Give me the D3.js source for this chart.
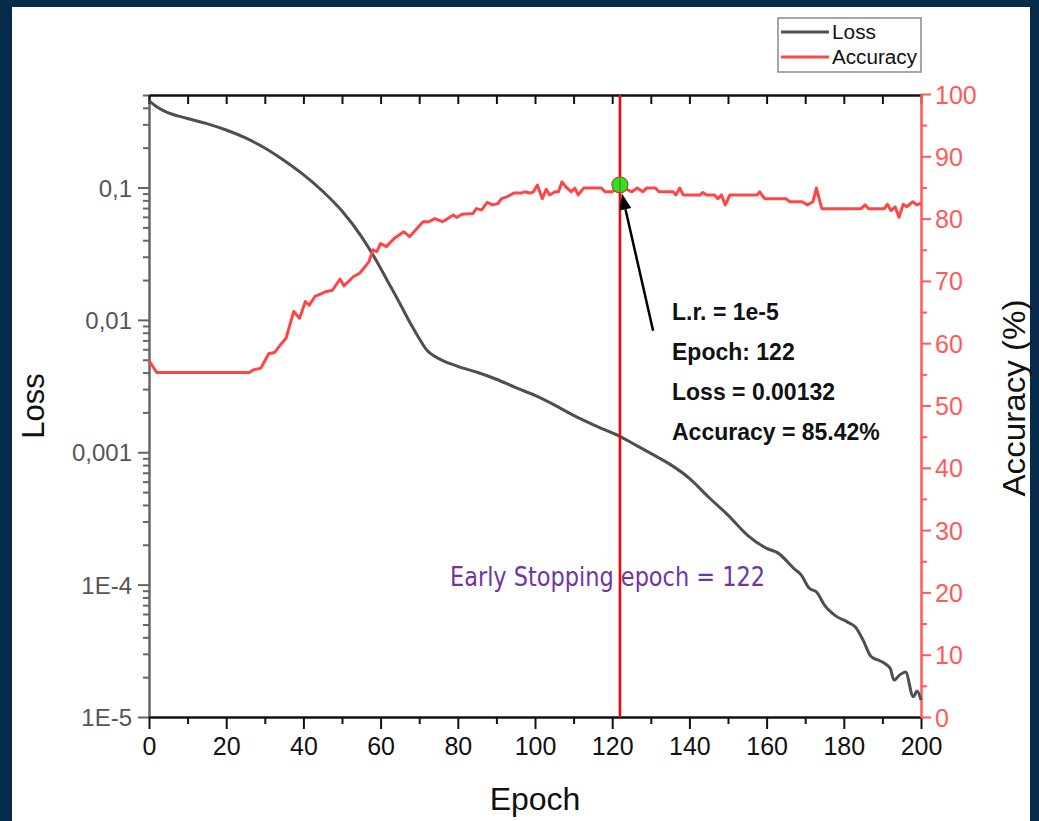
<!DOCTYPE html>
<html>
<head>
<meta charset="utf-8">
<script src="https://cdn.jsdelivr.net/npm/d3@7"></script>
<style>
  html, body { margin: 0; padding: 0; background: #052a4a; }
  svg { display: block; }
  text { font-family: "Liberation Sans", Arial, sans-serif; }
</style>
</head>
<body>
<svg id="chart" width="1039" height="821"></svg>
<script>
// ---------------- DATA ----------------
const lossEpochs = [0, 2, 4, 10, 15, 20, 25, 30, 35, 40, 45, 50, 55, 60, 62, 65, 68, 70, 72, 74, 76, 80, 85, 90, 95, 100,
  105, 110, 115, 120, 122, 125, 130, 135, 140, 145, 150, 155, 160, 163, 167, 169, 171, 173, 175, 178, 181,
  183, 185, 187, 190, 192, 193, 194.5, 196, 198, 199, 200];
const lossValues = [0.454, 0.408, 0.378, 0.332, 0.304, 0.272, 0.237, 0.199, 0.160, 0.125, 0.0937, 0.0664, 0.0428, 0.0246, 0.0192,
  0.0133, 0.0091, 0.00724, 0.00589, 0.00531, 0.00495, 0.00446, 0.00402, 0.00356, 0.00308, 0.00269,
  0.00228, 0.00190, 0.00162, 0.00140, 0.00132, 0.00118, 0.00098, 0.00081, 0.000636, 0.000457, 0.000335,
  0.000237, 0.000188, 0.000173, 0.000133, 0.000118, 0.0000942, 0.0000877, 0.0000700, 0.0000578,
  0.0000521, 0.0000478, 0.0000381, 0.0000288, 0.0000260, 0.0000234, 0.0000190, 0.0000208, 0.0000219,
  0.0000142, 0.0000157, 0.0000134];

const accEpochs = [0, 2, 26, 27, 29, 31, 32.5, 34, 35.5, 37.5, 39, 40.5, 41.5, 43, 46, 47.5, 49.5, 50.5, 53,
  54.5, 56, 57, 58, 59, 60, 61.5, 63.5, 66, 67.5, 71, 72.5, 74, 76, 77.4, 78.8, 79.7, 81.1, 83.9, 84.8,
  86.2, 87.6, 89, 90.4, 91.3, 92.7, 94.5, 96.4, 97.3, 98.7, 99.6, 100.6, 101.9, 102.9, 103.8, 105.2,
  106.1, 107, 108, 109.4, 110.3, 111.2, 112.6, 117.2, 118.2, 120, 122, 124, 125.1, 126.5, 127.9, 128.9,
  131.2, 132.1, 135.8, 136.5, 137.5, 138.4, 142.8, 143.5, 144.4, 146.5, 147.4, 148.3, 149.3, 150.5,
  157.6, 158.2, 159.5, 165, 166, 169.2, 170.6, 172, 172.9, 174.3, 184.5, 185.5, 186.4, 190.5, 191.3,
  192.2, 193.3, 194.3, 195.4, 196.3, 197.9, 198.9, 200];
const accValues = [57.2, 55.3, 55.3, 55.7, 56.0, 58.3, 58.5, 59.7, 60.8, 65.1, 64.0, 66.7, 66.1, 67.5, 68.3,
  68.5, 70.3, 69.2, 70.7, 71.2, 72.3, 73.1, 75.0, 74.7, 76.0, 75.5, 76.8, 77.9, 77.1, 79.5, 79.5, 80.0,
  79.5, 80.0, 80.6, 80.2, 80.7, 80.8, 81.6, 81.4, 82.6, 82.2, 82.4, 83.2, 83.5, 84.1, 84.1, 84.3, 84.1,
  84.3, 85.4, 83.2, 84.7, 83.8, 84.3, 84.3, 85.9, 85.1, 84.3, 84.9, 83.8, 84.9, 84.9, 84.3, 84.3, 85.42,
  84.6, 84.3, 84.9, 84.3, 84.9, 84.9, 84.3, 84.3, 83.8, 84.9, 83.8, 83.8, 84.2, 83.8, 83.8, 83.2, 83.8,
  82.2, 83.8, 83.8, 84.3, 83.2, 83.2, 82.7, 82.7, 82.2, 82.7, 84.9, 81.6, 81.6, 82.2, 81.6, 81.6, 82.3,
  81.3, 81.9, 80.2, 82.3, 81.9, 82.7, 82.2, 82.5];

const xTicks = [0, 20, 40, 60, 80, 100, 120, 140, 160, 180, 200];
const lossTickValues = [1e-5, 1e-4, 1e-3, 1e-2, 1e-1];
const lossTickLabels = ["1E-5", "1E-4", "0,001", "0,01", "0,1"];
const accTicks = [0, 10, 20, 30, 40, 50, 60, 70, 80, 90, 100];

const stopEpoch = 122;
const stopLoss = 0.00132;
const stopAcc = 85.42;
const noteLines = ["L.r. = 1e-5", "Epoch: 122", "Loss = 0.00132", "Accuracy = 85.42%"];
const stopLabel = "Early Stopping epoch = 122";
const legendNames = ["Loss", "Accuracy"];

// ---------------- LAYOUT ----------------
const svg = d3.select("#chart");
const W = 1039, H = 821;
const L = 149, R = 921, T = 95, B = 717;
const lossColor = "#4f4f4f", accColor = "#ff4646", axisRed = "#ff5a5a";

svg.append("rect").attr("width", W).attr("height", H).attr("fill", "#052a4a");
svg.append("rect").attr("x", 12).attr("y", 7).attr("width", 1018).attr("height", H - 7).attr("fill", "#ffffff");

const x = d3.scaleLinear().domain([0, 200]).range([L, R]);
const yL = d3.scaleLog().domain([1e-5, 0.5]).range([B, T]);
const yA = d3.scaleLinear().domain([0, 100]).range([B, T - 1]);

// ---------------- AXES ----------------
const minorLog = [];
for (let e = -5; e <= -1; e++) for (let m = 2; m <= 9; m++) { const v = m * Math.pow(10, e); if (v <= 0.5 + 1e-9) minorLog.push(v); }

const leftG = svg.append("g").attr("transform", `translate(${L},0)`);
leftG.call(d3.axisLeft(yL).tickValues(minorLog).tickSize(6).tickFormat(""));
leftG.call(g => g.select(".domain").remove());
const leftMajor = svg.append("g").attr("transform", `translate(${L},0)`)
  .call(d3.axisLeft(yL).tickValues(lossTickValues).tickSize(11).tickSizeOuter(0).tickPadding(6)
    .tickFormat((d, i) => lossTickLabels[i]));
leftMajor.selectAll("text").attr("font-size", 24).attr("fill", "#555").attr("dy", "0.36em");
[leftG, leftMajor].forEach(g => { g.selectAll("line").attr("stroke", "#666").attr("stroke-width", 2); g.select(".domain").attr("stroke", "#666").attr("stroke-width", 2.5); });

const bottomMinor = svg.append("g").attr("transform", `translate(0,${B})`)
  .call(d3.axisBottom(x).tickValues(d3.range(10, 200, 20)).tickSize(7).tickFormat(""));
bottomMinor.select(".domain").remove();
const bottomAx = svg.append("g").attr("transform", `translate(0,${B})`)
  .call(d3.axisBottom(x).tickValues(xTicks).tickSize(12).tickSizeOuter(0).tickPadding(8).tickFormat(d3.format("d")));
bottomAx.selectAll("text").attr("font-size", 25).attr("fill", "#111").attr("dy", "0.72em");
[bottomMinor, bottomAx].forEach(g => { g.selectAll("line").attr("stroke", "#111").attr("stroke-width", 2); g.select(".domain").attr("stroke", "#111").attr("stroke-width", 2.5); });

const topAx = svg.append("g").attr("transform", `translate(0,${T})`)
  .call(d3.axisBottom(x).tickValues(d3.range(0, 201, 10)).tickSize(9).tickSizeOuter(0).tickFormat(""));
topAx.selectAll("line").attr("stroke", "#111").attr("stroke-width", 2);
topAx.select(".domain").attr("stroke", "#111").attr("stroke-width", 2.5);

const rightMinor = svg.append("g").attr("transform", `translate(${R},0)`)
  .call(d3.axisRight(yA).tickValues(d3.range(5, 100, 10)).tickSize(6).tickFormat(""));
rightMinor.select(".domain").remove();
const rightAx = svg.append("g").attr("transform", `translate(${R},0)`)
  .call(d3.axisRight(yA).tickValues(accTicks).tickSize(10).tickSizeOuter(0).tickPadding(4).tickFormat(d3.format("d")));
rightAx.selectAll("text").attr("font-size", 25).attr("fill", axisRed).attr("dy", "0.36em");
[rightMinor, rightAx].forEach(g => { g.selectAll("line").attr("stroke", axisRed).attr("stroke-width", 2); g.select(".domain").attr("stroke", axisRed).attr("stroke-width", 2.5); });

svg.append("text").attr("transform", `translate(44,${(T + B) / 2}) rotate(-90)`)
  .attr("text-anchor", "middle").attr("font-size", 31).attr("fill", "#111").text("Loss");
svg.append("text").attr("x", 535).attr("y", 810)
  .attr("text-anchor", "middle").attr("font-size", 32).attr("fill", "#111").text("Epoch");
svg.append("text").attr("transform", `translate(1025,398) rotate(-90)`)
  .attr("text-anchor", "middle").attr("font-size", 32).attr("fill", "#111")
  .attr("textLength", 197).attr("lengthAdjust", "spacingAndGlyphs").text("Accuracy (%)");

// ---------------- LINES ----------------
const lossData = lossEpochs.map((e, i) => [e, lossValues[i]]);
const accData = accEpochs.map((e, i) => [e, accValues[i]]);

svg.append("path").datum(lossData)
  .attr("d", d3.line().x(d => x(d[0])).y(d => yL(d[1])).curve(d3.curveMonotoneX))
  .attr("fill", "none").attr("stroke", lossColor).attr("stroke-width", 3).attr("stroke-linejoin", "round");

svg.append("path").datum(accData)
  .attr("d", d3.line().x(d => x(d[0])).y(d => yA(d[1])))
  .attr("fill", "none").attr("stroke", accColor).attr("stroke-width", 3).attr("stroke-linejoin", "round");

svg.append("line").attr("x1", x(stopEpoch)).attr("x2", x(stopEpoch)).attr("y1", T).attr("y2", B)
  .attr("stroke", "#ff0000").attr("stroke-width", 2.5);

const cx = x(stopEpoch), cy = yA(stopAcc);
svg.append("circle").attr("cx", cx).attr("cy", cy).attr("r", 8)
  .attr("fill", "#22e81e").attr("stroke", "#b34a2a").attr("stroke-width", 1.2);
svg.append("line").attr("x1", cx).attr("x2", cx).attr("y1", cy - 8).attr("y2", cy + 8)
  .attr("stroke", "#ff0000").attr("stroke-width", 1.2).attr("opacity", 0.6);

const tailX = x(130.6), tailY = yA(62);
const dx = tailX - cx, dy = tailY - cy, len = Math.hypot(dx, dy);
const ux = dx / len, uy = dy / len;
const tipX = cx + ux * 9, tipY = cy + uy * 9;
const headLen = 16, headW = 6;
const baseX = tipX + ux * headLen, baseY = tipY + uy * headLen;
svg.append("line").attr("x1", tailX).attr("y1", tailY).attr("x2", baseX).attr("y2", baseY)
  .attr("stroke", "#000").attr("stroke-width", 2.5);
svg.append("path").attr("d", `M${tipX},${tipY} L${baseX - uy * headW},${baseY + ux * headW} L${baseX + uy * headW},${baseY - ux * headW} Z`)
  .attr("fill", "#000");

noteLines.forEach((t, i) => {
  svg.append("text").attr("x", 672).attr("y", 320 + i * 40)
    .attr("font-size", 23).attr("font-weight", "bold").attr("fill", "#111").text(t);
});

svg.append("text").attr("x", 450).attr("y", 586)
  .attr("font-size", 26).attr("fill", "#7035a3")
  .attr("textLength", 315).attr("lengthAdjust", "spacingAndGlyphs")
  .style("font-family", "'Liberation Sans Narrow', 'DejaVu Sans Condensed', 'Open Sans', sans-serif")
  .text(stopLabel);

// ---------------- LEGEND ----------------
const lg = svg.append("g");
lg.append("rect").attr("x", 778).attr("y", 18).attr("width", 143).attr("height", 54)
  .attr("fill", "#fff").attr("stroke", "#8a8a8a").attr("stroke-width", 1.5);
[[lossColor, 32], [accColor, 57]].forEach(([c, yy], i) => {
  lg.append("line").attr("x1", 781).attr("x2", 829).attr("y1", yy).attr("y2", yy)
    .attr("stroke", c).attr("stroke-width", 3);
  lg.append("text").attr("x", 832).attr("y", yy + 7).attr("font-size", 20).attr("fill", "#111")
    .attr("textLength", i === 0 ? 44 : 85).attr("lengthAdjust", "spacingAndGlyphs").text(legendNames[i]);
});
</script>
</body>
</html>
